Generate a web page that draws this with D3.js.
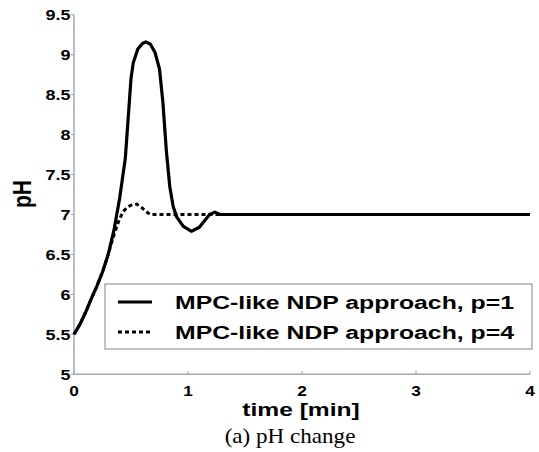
<!DOCTYPE html>
<meta charset="utf-8">
<script src="https://d3js.org/d3.v7.min.js"></script>
<style>
body { margin: 0; background: #fff; }
text { font-family: "Liberation Sans", Arial, sans-serif; font-weight: bold; fill: #000; }
.caption { font-family: "Liberation Serif", "Times New Roman", serif; font-weight: normal; }
</style>
<body>
<div id="chart"></div>
<script>
// p=1 curve
var timeP1 = [0, 0.05, 0.1, 0.15, 0.2, 0.25, 0.3, 0.35, 0.4, 0.45, 0.48, 0.5, 0.52, 0.56, 0.6, 0.63, 0.67, 0.71, 0.75, 0.78, 0.81, 0.84, 0.87, 0.9, 0.96, 1.03, 1.1, 1.15, 1.19, 1.235, 1.28, 2, 3, 4];
var phP1   = [5.5, 5.62, 5.77, 5.94, 6.1, 6.28, 6.5, 6.8, 7.2, 7.7, 8.3, 8.7, 8.9, 9.07, 9.14, 9.16, 9.13, 9.03, 8.82, 8.4, 7.8, 7.35, 7.1, 6.97, 6.85, 6.79, 6.84, 6.93, 7.0, 7.03, 7.0, 7.0, 7.0, 7.0];
// p=4 curve
var timeP4 = [0, 0.05, 0.1, 0.15, 0.2, 0.25, 0.3, 0.345, 0.4, 0.44, 0.476, 0.51, 0.55, 0.6, 0.62, 0.667, 1, 2, 3, 4];
var phP4   = [5.5, 5.62, 5.77, 5.94, 6.1, 6.28, 6.5, 6.72, 6.95, 7.05, 7.1, 7.12, 7.13, 7.08, 7.05, 7.0, 7.0, 7.0, 7.0, 7.0];

var xTicks = [0, 1, 2, 3, 4];
var yTicks = [5, 5.5, 6, 6.5, 7, 7.5, 8, 8.5, 9, 9.5];
var legendLabels = ["MPC-like NDP approach, p=1", "MPC-like NDP approach, p=4"];

var W = 539, H = 452;
var svg = d3.select("#chart").append("svg").attr("width", W).attr("height", H);

var x = d3.scaleLinear().domain([0, 4]).range([74, 530]);
var y = d3.scaleLinear().domain([5, 9.5]).range([374.3, 14.7]);

// stretched text helper (figure was scaled wider than tall)
function stext(g, tx, ty, str, size, sx, anchor) {
  return g.append("text")
    .attr("transform", "translate(" + tx + "," + ty + ") scale(" + sx + ",1)")
    .attr("text-anchor", anchor)
    .style("font-size", size + "px")
    .text(str);
}

var axisCol = "#a8a8a8";
// axes lines
svg.append("line").attr("x1", x(0)).attr("x2", x(4)).attr("y1", y(5)).attr("y2", y(5))
  .attr("stroke", axisCol).attr("stroke-width", 1.5);
svg.append("line").attr("x1", x(0)).attr("x2", x(0)).attr("y1", y(5)).attr("y2", y(9.5))
  .attr("stroke", axisCol).attr("stroke-width", 1.5);

xTicks.forEach(function(t) {
  svg.append("line").attr("x1", x(t)).attr("x2", x(t)).attr("y1", y(5)).attr("y2", y(5) - 3)
    .attr("stroke", axisCol).attr("stroke-width", 1.2);
  stext(svg, x(t), 395.5, d3.format("")(t), 15, 1.15, "middle");
});
yTicks.forEach(function(t) {
  svg.append("line").attr("x1", x(0) - 3).attr("x2", x(0)).attr("y1", y(t)).attr("y2", y(t))
    .attr("stroke", axisCol).attr("stroke-width", 1.2);
  stext(svg, 70.5, y(t) + 5.5, d3.format("")(t), 15, 1.2, "end");
});

// axis labels
svg.append("text")
  .attr("transform", "translate(31,194) rotate(-90) scale(1,1.25)")
  .attr("text-anchor", "middle")
  .style("font-size", "21px")
  .text("pH");
stext(svg, 301, 416, "time [min]", 18.5, 1.33, "middle");
stext(svg, 290, 443, "(a) pH change", 21, 1.1, "middle").attr("class", "caption");

// curves
var line = d3.line().x(function(d) { return x(d[0]); }).y(function(d) { return y(d[1]); });
var dataP1 = timeP1.map(function(t, i) { return [t, phP1[i]]; });
var dataP4 = timeP4.map(function(t, i) { return [t, phP4[i]]; });

svg.append("path").datum(dataP4).attr("d", line)
  .attr("fill", "none").attr("stroke", "#000").attr("stroke-width", 3)
  .attr("stroke-dasharray", "4,3");
svg.append("path").datum(dataP1).attr("d", line)
  .attr("fill", "none").attr("stroke", "#000").attr("stroke-width", 3.2)
  .attr("stroke-linejoin", "round");

// legend
var lg = svg.append("g");
lg.append("rect").attr("x", 105).attr("y", 284).attr("width", 427).attr("height", 65)
  .attr("fill", "#fff").attr("stroke", "#999").attr("stroke-width", 1.2);
legendLabels.forEach(function(lab, i) {
  var ly = 302 + i * 30;
  lg.append("line").attr("x1", 118).attr("x2", 152).attr("y1", ly).attr("y2", ly)
    .attr("stroke", "#000").attr("stroke-width", 3)
    .attr("stroke-dasharray", i === 1 ? "4,3" : null);
  stext(lg, 175, ly + 7, lab, 18.5, 1.34, "start");
});
</script>
</body>
